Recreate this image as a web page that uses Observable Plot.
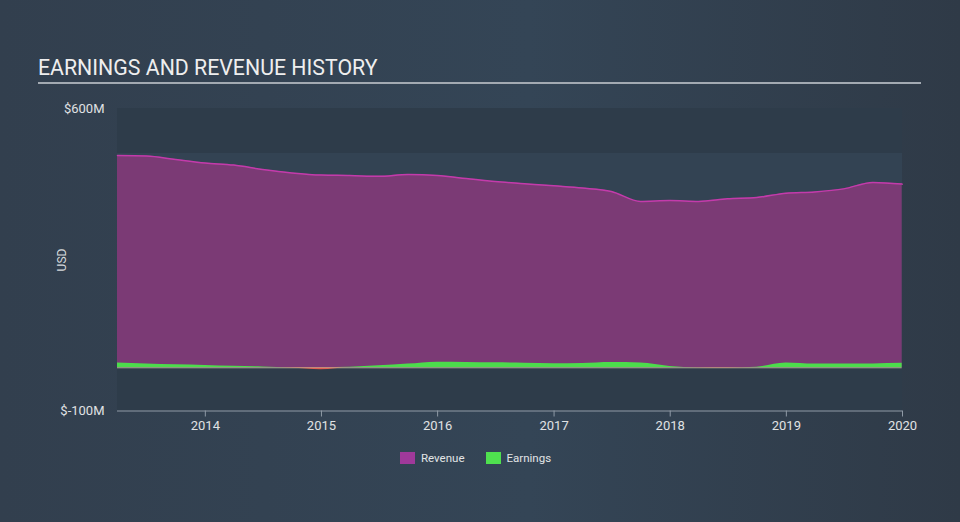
<!DOCTYPE html>
<html>
<head>
<meta charset="utf-8">
<script src="https://cdn.jsdelivr.net/npm/d3@7"></script>
<script src="https://cdn.jsdelivr.net/npm/@observablehq/plot@0.6"></script>
<style>
  html, body { margin: 0; padding: 0; }
  body {
    width: 960px; height: 522px; overflow: hidden; position: relative;
    background: linear-gradient(90deg, #323f4e 0%, #344556 55%, #2f3a47 100%);
    font-family: Roboto, "Open Sans", sans-serif;
  }
  #title {
    position: absolute; left: 38px; top: 55px; width: 883px;
    color: #eeeeee; font-size: 21.3px; letter-spacing: 0px;
    border-bottom: 2px solid #a3aab2; padding-bottom: 2px; line-height: 25px;
  }
  #usd {
    position: absolute; left: 62px; top: 260px; transform: translate(-50%, -50%) rotate(-90deg);
    color: #d6d9dc; font-size: 12px;
  }
  #chart { position: absolute; left: 0; top: 0; }
  #legend {
    position: absolute; top: 451px; left: 400px; display: flex; align-items: center;
    color: #e2e4e6; font-size: 11.5px;
  }
  .sw { display: inline-block; width: 15px; height: 12px; margin-right: 6px; }
  .item { display: flex; align-items: center; margin-right: 21px; }
</style>
</head>
<body>
<div id="title">EARNINGS AND REVENUE HISTORY</div>
<div id="usd">USD</div>
<div id="chart"></div>
<div id="legend">
  <div class="item"><span class="sw" style="background:#a0399a"></span>Revenue</div>
  <div class="item"><span class="sw" style="background:#4fe04f"></span>Earnings</div>
</div>
<script>
// Quarter-end dates
const dates = [
  "2013-03-31","2013-06-30","2013-09-30","2013-12-31",
  "2014-03-31","2014-06-30","2014-09-30","2014-12-31",
  "2015-03-31","2015-06-30","2015-09-30","2015-12-31",
  "2016-03-31","2016-06-30","2016-09-30","2016-12-31",
  "2017-03-31","2017-06-30","2017-09-30","2017-12-31",
  "2018-03-31","2018-06-30","2018-09-30","2018-12-31",
  "2019-03-31","2019-06-30","2019-09-30","2019-12-31"
];
// Revenue, $M
const revenue = [
  491, 490, 482, 474,
  469, 459, 451, 446,
  445, 443, 447, 445,
  438, 431, 426, 421,
  416, 408, 385, 387,
  385, 391, 394, 404,
  407, 414, 429, 425
];
// Earnings, $M
const earnings = [
  11, 9, 7, 5.5,
  3.5, 2, -1, -4.5,
  1, 4.5, 8.5, 13,
  12.5, 11.5, 10.5, 9.5,
  10, 12, 11, 3,
  -0.5, -1, 1.5, 11,
  8.5, 8.5, 9, 10.5
];
const yTicks = [-100, 600];
const xTickYears = [2014, 2015, 2016, 2017, 2018, 2019, 2020];
// Background bands (in $M)
const bands = [
  {y1: -100, y2: 600, fill: "#2e3c4a"},
  {y1: 0, y2: 496, fill: "#334353"}
];

const data = dates.map((d, i) => ({
  date: new Date(d),
  revenue: revenue[i],
  earnings: earnings[i],
  pos: Math.max(0, earnings[i]),
  neg: Math.min(0, earnings[i])
}));

const xDomain = [new Date("2013-03-31"), new Date("2020-01-01")];
const xTicks = xTickYears.map(y => new Date(Date.UTC(y, 0, 1)));

const chart = Plot.plot({
  width: 960,
  height: 522,
  marginLeft: 117,
  marginRight: 58,
  marginTop: 108,
  marginBottom: 111.5,
  style: {background: "transparent", fontFamily: "Roboto, sans-serif", fontSize: "13px", color: "#d6d9dc"},
  x: {type: "utc", domain: xDomain},
  y: {domain: [-100, 600]},
  marks: [
    Plot.rectY(bands, {x1: xDomain[0], x2: xDomain[1], y1: "y1", y2: "y2", fill: "fill"}),
    Plot.areaY(data, {x: "date", y: "revenue", fill: "#7b3a75", curve: "monotone-x"}),
    Plot.lineY(data, {x: "date", y: "revenue", stroke: "#c33bab", strokeWidth: 1.5, curve: "monotone-x"}),
    Plot.areaY(data, {x: "date", y: "pos", fill: "#4cdc4c", curve: "monotone-x"}),
    Plot.areaY(data, {x: "date", y: "neg", fill: "#e8483e", curve: "monotone-x"}),
    Plot.ruleY([0], {x1: xDomain[0], x2: new Date(dates[dates.length - 1]), stroke: "#c9bfa6", strokeWidth: 1, strokeOpacity: 0.8}),
    Plot.ruleY([-100], {x1: xDomain[0], x2: xDomain[1], stroke: "#8f9aa6", strokeWidth: 1.2}),
    Plot.axisY({ticks: yTicks, tickSize: 0, tickPadding: 13, tickFormat: d => `$${d}M`, label: null, fill: "#e0e2e4", fontSize: 13}),
    Plot.axisX({ticks: xTicks, tickSize: 6, tickPadding: 4, tickFormat: d3.utcFormat("%Y"), label: null, stroke: "#8f9aa6", fill: "#e0e2e4", fontSize: 13})
  ]
});
document.getElementById("chart").appendChild(chart);
</script>
</body>
</html>
